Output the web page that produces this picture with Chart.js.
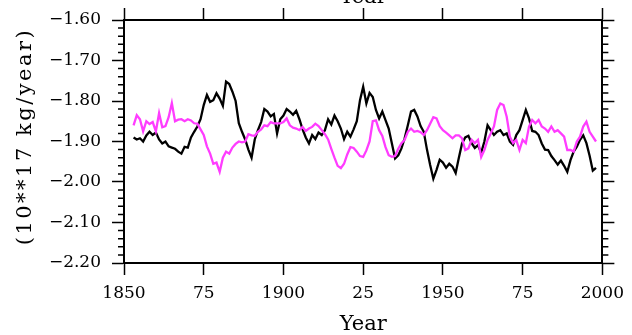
<!DOCTYPE html>
<html>
<head>
<meta charset="utf-8">
<script src="https://cdn.jsdelivr.net/npm/chart.js@4.4.0/dist/chart.umd.min.js"></script>
<style>
    html, body { margin: 0; padding: 0; background: #ffffff; overflow: hidden; }
    /* canvas is taller than the window and shifted up, so the top "Year" title is cut off like the original */
    #wrap { position: absolute; left: 0; top: -30px; width: 632px; height: 380px; }
</style>
</head>
<body>
<div id="wrap"><canvas id="chart" width="632" height="380"></canvas></div>
<script>
// ---- data ----
const years = [
    1853, 1854, 1855, 1856, 1857, 1858, 1859, 1860, 1861, 1862,
    1863, 1864, 1865, 1866, 1867, 1868, 1869, 1870, 1871, 1872,
    1873, 1874, 1875, 1876, 1877, 1878, 1879, 1880, 1881, 1882,
    1883, 1884, 1885, 1886, 1887, 1888, 1889, 1890, 1891, 1892,
    1893, 1894, 1895, 1896, 1897, 1898, 1899, 1900, 1901, 1902,
    1903, 1904, 1905, 1906, 1907, 1908, 1909, 1910, 1911, 1912,
    1913, 1914, 1915, 1916, 1917, 1918, 1919, 1920, 1921, 1922,
    1923, 1924, 1925, 1926, 1927, 1928, 1929, 1930, 1931, 1932,
    1933, 1934, 1935, 1936, 1937, 1938, 1939, 1940, 1941, 1942,
    1943, 1944, 1945, 1946, 1947, 1948, 1949, 1950, 1951, 1952,
    1953, 1954, 1955, 1956, 1957, 1958, 1959, 1960, 1961, 1962,
    1963, 1964, 1965, 1966, 1967, 1968, 1969, 1970, 1971, 1972,
    1973, 1974, 1975, 1976, 1977, 1978, 1979, 1980, 1981, 1982,
    1983, 1984, 1985, 1986, 1987, 1988, 1989, 1990, 1991, 1992,
    1993, 1994, 1995, 1996, 1997, 1998
];

const blackSeries = [
    -1.890, -1.895, -1.892, -1.900, -1.885, -1.876, -1.884, -1.878, -1.895, -1.905,
    -1.900, -1.912, -1.915, -1.918, -1.925, -1.930, -1.913, -1.915, -1.890, -1.876,
    -1.863, -1.845, -1.810, -1.785, -1.802, -1.798, -1.781, -1.794, -1.812, -1.752,
    -1.758, -1.777, -1.800, -1.855, -1.876, -1.895, -1.920, -1.940, -1.895, -1.872,
    -1.852, -1.820, -1.826, -1.838, -1.832, -1.880, -1.845, -1.836, -1.820, -1.826,
    -1.834, -1.824, -1.845, -1.870, -1.890, -1.905, -1.884, -1.894, -1.878, -1.884,
    -1.872, -1.845, -1.858, -1.836, -1.850, -1.868, -1.894, -1.876, -1.888, -1.870,
    -1.850, -1.798, -1.765, -1.806, -1.780, -1.790, -1.822, -1.843, -1.826, -1.847,
    -1.868, -1.905, -1.942, -1.934, -1.917, -1.892, -1.860, -1.826, -1.822, -1.838,
    -1.862, -1.876, -1.920, -1.958, -1.992, -1.970, -1.945, -1.952, -1.965, -1.955,
    -1.962, -1.978, -1.940, -1.905, -1.890, -1.886, -1.904, -1.916, -1.909, -1.928,
    -1.900, -1.860, -1.872, -1.884, -1.876, -1.872, -1.884, -1.880, -1.900, -1.908,
    -1.884, -1.872, -1.847, -1.822, -1.843, -1.874, -1.876, -1.884, -1.905, -1.920,
    -1.921, -1.936, -1.946, -1.957, -1.947, -1.960, -1.975, -1.946, -1.925, -1.913,
    -1.896, -1.885, -1.904, -1.935, -1.972, -1.965
];

const magentaSeries = [
    -1.860, -1.835, -1.845, -1.875, -1.850, -1.857, -1.852, -1.875, -1.830, -1.865,
    -1.862, -1.840, -1.805, -1.850, -1.846, -1.845, -1.850, -1.845, -1.848, -1.855,
    -1.856, -1.870, -1.884, -1.912, -1.930, -1.955, -1.952, -1.975, -1.940, -1.925,
    -1.930, -1.915, -1.906, -1.900, -1.902, -1.900, -1.882, -1.885, -1.886, -1.876,
    -1.870, -1.860, -1.862, -1.852, -1.855, -1.855, -1.855, -1.852, -1.843, -1.860,
    -1.866, -1.868, -1.872, -1.864, -1.874, -1.868, -1.864, -1.856, -1.862, -1.872,
    -1.882, -1.895, -1.918, -1.940, -1.960, -1.966, -1.955, -1.932, -1.914, -1.916,
    -1.925, -1.936, -1.938, -1.922, -1.900, -1.850, -1.848, -1.872, -1.886, -1.914,
    -1.934, -1.938, -1.936, -1.918, -1.904, -1.896, -1.876, -1.868, -1.876, -1.874,
    -1.877, -1.884, -1.872, -1.856, -1.840, -1.843, -1.862, -1.872, -1.878, -1.885,
    -1.892, -1.885, -1.885, -1.892, -1.921, -1.917, -1.896, -1.904, -1.896, -1.938,
    -1.921, -1.896, -1.880, -1.863, -1.822, -1.806, -1.810, -1.839, -1.888, -1.904,
    -1.896, -1.921, -1.896, -1.904, -1.863, -1.847, -1.855, -1.847, -1.863, -1.868,
    -1.876, -1.863, -1.876, -1.872, -1.880, -1.888, -1.921, -1.921, -1.925, -1.900,
    -1.888, -1.863, -1.851, -1.876, -1.888, -1.900
];

const xTickValues = [1850, 1875, 1900, 1925, 1950, 1975, 2000];
const xTickLabels = ['1850', '75', '1900', '25', '1950', '75', '2000'];
const yTickValues = [-2.2, -2.1, -2.0, -1.9, -1.8, -1.7, -1.6];
const yTickLabels = ['\u22122.20', '\u22122.10', '\u22122.00', '\u22121.90', '\u22121.80', '\u22121.70', '\u22121.60'];
const xTitle = 'Year';
const yTitle = '(10**17 kg/year)';

// ---- look ----
const FONT = "'DejaVu Serif', serif";
const CANVAS_W = 632, CANVAS_H = 380;
const AREA = { left: 124, right: 609, top: 50, bottom: 293 };   // plot box in canvas px
const MAJOR_TICK = 12, MINOR_TICK = 6;
const LINE_W = 2.3;

function labelFor(values, labels, v) {
    const i = values.findIndex(t => Math.abs(t - v) < 1e-6);
    return i < 0 ? '' : labels[i];
}

function axisBase() {
    return {
        border: { display: true, color: '#000', width: 2 },
        grid: { drawOnChartArea: false, drawTicks: true, tickLength: MAJOR_TICK, tickColor: '#000', tickWidth: 1.5, color: '#000' }
    };
}

// Minor ticks on both y axes + the spaced-out y title
const extrasPlugin = {
    id: 'extras',
    afterDraw(chart) {
        const ctx = chart.ctx;
        const yl = chart.scales.y, yr = chart.scales.y2;
        ctx.save();
        ctx.strokeStyle = '#000';
        ctx.lineWidth = 1.5;
        ctx.beginPath();
        for (let k = 1; k < 30; k++) {
            if (k % 5 === 0) continue;
            const v = yTickValues[0] + k * 0.02;
            const py = yl.getPixelForValue(v);
            ctx.moveTo(chart.chartArea.left, py);
            ctx.lineTo(chart.chartArea.left - MINOR_TICK, py);
            const pr = yr.getPixelForValue(v);
            ctx.moveTo(chart.chartArea.right, pr);
            ctx.lineTo(chart.chartArea.right + MINOR_TICK, pr);
        }
        ctx.stroke();

        // rotated y title
        ctx.fillStyle = '#000';
        ctx.font = '21px ' + FONT;
        if ('letterSpacing' in ctx) ctx.letterSpacing = '2.5px';
        ctx.textAlign = 'center';
        ctx.textBaseline = 'middle';
        ctx.translate(26, (chart.chartArea.top + chart.chartArea.bottom) / 2 - 5);
        ctx.rotate(-Math.PI / 2);
        ctx.fillText(yTitle, 0, 0);
        ctx.restore();
    }
};

const ctx = document.getElementById('chart').getContext('2d');

new Chart(ctx, {
    type: 'line',
    data: {
        datasets: [
            {
                label: 'magenta',
                data: years.map((yr, i) => ({ x: yr, y: magentaSeries[i] })),
                borderColor: '#ff3cff',
                borderWidth: LINE_W,
                pointRadius: 0,
                tension: 0,
                order: 0
            },
            {
                label: 'black',
                data: years.map((yr, i) => ({ x: yr, y: blackSeries[i] })),
                borderColor: '#000000',
                borderWidth: LINE_W,
                pointRadius: 0,
                tension: 0,
                order: 1
            }
        ]
    },
    options: {
        responsive: false,
        animation: false,
        devicePixelRatio: 1,
        layout: { padding: 0 },
        plugins: {
            legend: { display: false },
            tooltip: { enabled: false }
        },
        scales: {
            x: {
                ...axisBase(),
                type: 'linear',
                position: 'bottom',
                min: 1850,
                max: 2000,
                afterFit: s => { s.height = CANVAS_H - AREA.bottom; },
                ticks: {
                    stepSize: 25,
                    autoSkip: false,
                    maxRotation: 0,
                    padding: 8,
                    color: '#000',
                    font: { family: FONT, size: 17 },
                    callback: v => labelFor(xTickValues, xTickLabels, v)
                },
                title: {
                    display: true,
                    text: xTitle,
                    color: '#000',
                    font: { family: FONT, size: 21 },
                    padding: { top: 0, bottom: 13 }
                }
            },
            x2: {
                ...axisBase(),
                type: 'linear',
                position: 'top',
                min: 1850,
                max: 2000,
                afterFit: s => { s.height = AREA.top; },
                ticks: { display: false, stepSize: 25, autoSkip: false },
                title: {
                    display: true,
                    text: xTitle,
                    color: '#000',
                    font: { family: FONT, size: 21 },
                    padding: { top: 15, bottom: 0 }
                }
            },
            y: {
                ...axisBase(),
                type: 'linear',
                position: 'left',
                min: -2.2,
                max: -1.6,
                afterFit: s => { s.width = AREA.left; },
                ticks: {
                    stepSize: 0.1,
                    autoSkip: false,
                    padding: 11,
                    color: '#000',
                    font: { family: FONT, size: 17 },
                    callback: v => labelFor(yTickValues, yTickLabels, v)
                }
            },
            y2: {
                ...axisBase(),
                type: 'linear',
                position: 'right',
                min: -2.2,
                max: -1.6,
                afterFit: s => { s.width = CANVAS_W - AREA.right; },
                ticks: { display: false, stepSize: 0.1, autoSkip: false }
            }
        }
    },
    plugins: [extrasPlugin]
});
</script>
</body>
</html>
